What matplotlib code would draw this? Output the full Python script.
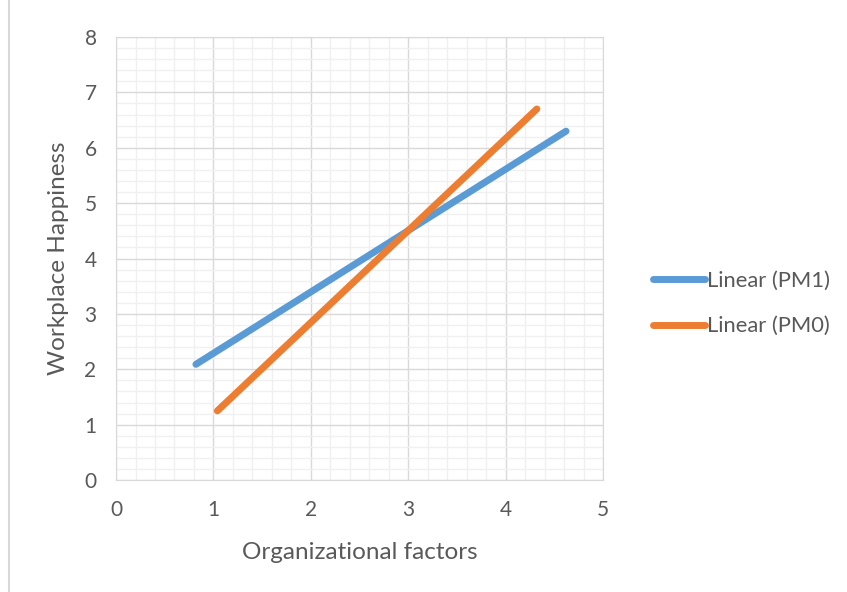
import matplotlib.pyplot as plt
from matplotlib.ticker import MultipleLocator

# trendline end points
pm1_x = [0.82, 4.62]
pm1_y = [2.09, 6.30]
pm0_x = [1.04, 4.32]
pm0_y = [1.25, 6.70]

labels = ['Linear (PM1)', 'Linear (PM0)']
colors = ['#5b9bd5', '#ed7d31']

plt.rcParams['font.family'] = ['Lato', 'DejaVu Sans']

fig = plt.figure(figsize=(8.47, 5.92), dpi=100)
ax = fig.add_axes([0.137, 0.189, 0.575, 0.7485])

ax.plot(pm1_x, pm1_y, color=colors[0], lw=5, solid_capstyle='round', label=labels[0], zorder=3)
ax.plot(pm0_x, pm0_y, color=colors[1], lw=5, solid_capstyle='round', label=labels[1], zorder=3)

ax.set_xlim(0, 5)
ax.set_ylim(0, 8)
ax.xaxis.set_major_locator(MultipleLocator(1))
ax.yaxis.set_major_locator(MultipleLocator(1))
ax.xaxis.set_minor_locator(MultipleLocator(0.2))
ax.yaxis.set_minor_locator(MultipleLocator(0.2))
ax.grid(which='major', color='#d9d9d9', lw=1.0)
ax.grid(which='minor', color='#f0f0f0', lw=1.0)
ax.set_axisbelow(True)
for s in ax.spines.values():
    s.set_color('#d9d9d9')
ax.tick_params(which='both', length=0, colors='#595959', labelsize=15)
ax.tick_params(axis='x', pad=14)
ax.tick_params(axis='y', pad=14)

ax.set_xlabel('Organizational factors', fontsize=17.5, color='#595959', labelpad=16)
ax.set_ylabel('Workplace Happiness', fontsize=17.5, color='#595959', labelpad=11)

leg = fig.legend(loc='center left', bbox_to_anchor=(0.748, 0.487), frameon=False,
                 fontsize=15.8, handlelength=2.35, handletextpad=0.1, labelspacing=1.15,
                 labelcolor='#595959')

# outer chart border
fig.add_artist(plt.Line2D([0.011, 0.011], [0, 1], color='#d9d9d9', lw=1.5, transform=fig.transFigure))

fig.savefig('out.png', dpi=100)
